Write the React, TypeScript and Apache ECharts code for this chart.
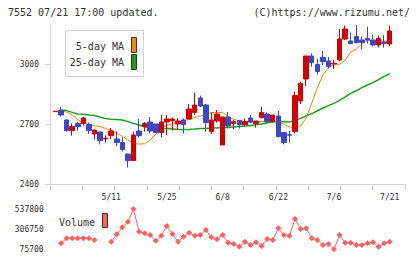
import React, { useEffect, useRef } from 'react';
import * as echarts from 'echarts';

const dates = ["4/24","4/25","4/26","4/27","4/28","5/1","5/2","5/8","5/9","5/10","5/11","5/12","5/15","5/16","5/17","5/18","5/19","5/22","5/23","5/24","5/25","5/26","5/29","5/30","5/31","6/1","6/2","6/5","6/6","6/7","6/8","6/9","6/12","6/13","6/14","6/15","6/16","6/19","6/20","6/21","6/22","6/23","6/26","6/27","6/28","6/29","6/30","7/3","7/4","7/5","7/6","7/7","7/10","7/11","7/12","7/13","7/14","7/18","7/19","7/20","7/21"];
const dateLabels = ["5/11", "5/25", "6/8", "6/22", "7/6", "7/21"];

const opens  = [2762,2767,2720,2667,2702,2702,2697,2650,2660,2625,2642,2625,2607,2550,2517,2665,2687,2710,2700,2657,2710,2717,2700,2720,2725,2757,2830,2795,2662,2715,2595,2735,2702,2718,2697,2730,2702,2732,2750,2713,2740,2657,2646,2662,2815,2925,3040,2998,3032,3015,3000,3020,3125,3115,3137,3120,3128,3120,3095,3110,3100];
const closes = [2764,2745,2667,2687,2687,2730,2667,2670,2617,2629,2665,2607,2572,2517,2645,2642,2702,2665,2657,2710,2725,2725,2715,2697,2775,2795,2790,2707,2720,2750,2735,2690,2712,2697,2713,2710,2715,2757,2713,2745,2637,2608,2644,2842,2903,3040,3007,2962,3012,2987,3004,3125,3175,3102,3107,3108,3120,3095,3128,3102,3165];
const lows   = [2762,2737,2662,2642,2667,2692,2650,2623,2598,2607,2623,2590,2562,2483,2517,2633,2662,2653,2657,2633,2645,2667,2670,2653,2725,2745,2785,2662,2650,2707,2595,2678,2675,2677,2692,2703,2682,2728,2703,2705,2632,2598,2608,2653,2800,2890,2987,2947,2995,2978,2975,3013,3120,3102,3103,3073,3103,3087,3083,3082,3090];
const highs  = [2764,2785,2722,2703,2712,2737,2707,2672,2662,2643,2680,2663,2633,2552,2662,2725,2710,2735,2700,2745,2745,2732,2730,2728,2800,2857,2842,2800,2758,2770,2735,2760,2720,2718,2728,2745,2715,2787,2757,2745,2765,2657,2665,2862,2912,3040,3053,3025,3065,3035,3020,3175,3192,3158,3195,3137,3187,3145,3142,3145,3192];

const ma5 = [null,2767,2760,2745,2722,2706,2699,2691,2687,2677,2669,2653,2638,2620,2602,2600,2601,2620,2650,2680,2693,2702,2712,2717,2722,2732,2740,2750,2757,2758,2757,2738,2723,2716,2712,2710,2710,2712,2715,2712,2708,2700,2685,2681,2690,2730,2805,2880,2945,2982,3000,2998,3020,3060,3075,3100,3118,3115,3115,3115,3113];
const ma25 = [null,2770,2767,2758,2750,2749,2745,2742,2735,2727,2724,2723,2720,2712,2703,2695,2686,2679,2678,2678,2677,2675,2673,2673,2673,2675,2678,2678,2680,2680,2682,2683,2685,2687,2690,2692,2696,2700,2706,2710,2712,2711,2710,2718,2728,2740,2752,2766,2779,2792,2803,2818,2836,2853,2866,2882,2895,2907,2922,2938,2952];

const volume = [null,141500,199300,199300,199300,199300,199300,179700,null,null,160000,245000,326000,391000,537800,275600,257000,237400,171600,229000,341400,249000,160000,217800,264000,229000,237400,295000,210000,187800,237400,148500,133500,102300,160000,121900,153000,110400,191200,179700,314800,237400,229000,422000,306750,314800,199300,179700,121900,133500,72000,237400,148500,148500,121900,121900,141500,153000,102300,141500,160000];

const priceTicks = [2400, 2700, 3000];
const volumeTicks = [75700, 306750, 537800];

const MONO = '"DejaVu Sans Mono", monospace';
const RED = '#d20000';
const BLUE = '#3c46c6';
const ORANGE = '#f08a00';
const GREEN = '#17a317';
const VOL = '#ff5e5e';
const AXIS = '#d4d4d4';

export default function App() {
  const ref = useRef<HTMLDivElement>(null);
  useEffect(() => {
    document.body.style.margin = '0';
    const chart = echarts.init(ref.current!, null, { renderer: 'svg' });
    const candles = opens.map((o, i) => [o, closes[i], lows[i], highs[i]]);
    const plain = (v: number) => String(v);
    chart.setOption({
      animation: false,
      backgroundColor: '#fff',
      grid: [
        { left: 50, right: 15, top: 24, height: 160 },
        { left: 52.7, width: 339.8, top: 24, height: 160 },
        { left: 52.7, width: 339.8, top: 205, height: 48 },
      ],
      xAxis: [
        {
          gridIndex: 0, type: 'value', min: 0, max: 11, interval: 1,
          axisLine: { show: true, onZero: false, lineStyle: { color: AXIS, width: 1 } },
          axisTick: { show: true, length: 6, lineStyle: { color: AXIS } },
          axisLabel: { show: false }, splitLine: { show: false },
        },
        {
          gridIndex: 1, type: 'category', data: dates, boundaryGap: true,
          axisLine: { show: false }, axisTick: { show: false }, splitLine: { show: false },
          axisLabel: {
            interval: (_i: number, v: string) => dateLabels.includes(v),
            margin: 9, fontSize: 8, fontFamily: MONO, color: '#333',
          },
        },
        {
          gridIndex: 2, type: 'category', data: dates, boundaryGap: true, show: false,
        },
      ],
      yAxis: [
        {
          gridIndex: 0, type: 'value', min: 2400, max: 3200,
          axisLine: { show: true, lineStyle: { color: AXIS } },
          axisTick: { show: true, length: 5, customValues: priceTicks, lineStyle: { color: AXIS } },
          axisLabel: { customValues: priceTicks, formatter: plain, margin: 11, fontSize: 8, fontFamily: MONO, color: '#333' },
          splitLine: { show: false },
        },
        { gridIndex: 1, type: 'value', min: 2400, max: 3200, show: false },
        {
          gridIndex: 2, type: 'value', min: 29490, max: 584010,
          axisLine: { show: false }, axisTick: { show: false }, splitLine: { show: false },
          axisLabel: { customValues: volumeTicks, formatter: plain, margin: 9, fontSize: 8, fontFamily: MONO, color: '#333' },
        },
      ],
      series: [
        {
          type: 'line', xAxisIndex: 1, yAxisIndex: 1, data: ma25, showSymbol: false,
          lineStyle: { color: GREEN, width: 1.5 }, z: 2,
        },
        {
          type: 'line', xAxisIndex: 1, yAxisIndex: 1, data: ma5, showSymbol: false,
          lineStyle: { color: ORANGE, width: 1 }, z: 2,
        },
        {
          type: 'candlestick', xAxisIndex: 1, yAxisIndex: 1, data: candles, barWidth: 5, z: 3,
          itemStyle: { color: RED, color0: BLUE, borderColor: RED, borderColor0: BLUE, borderWidth: 1 },
        },
        {
          type: 'line', xAxisIndex: 2, yAxisIndex: 2, data: volume, connectNulls: false,
          symbol: 'diamond', symbolSize: 6, showSymbol: true, showAllSymbol: true,
          itemStyle: { color: VOL }, lineStyle: { color: VOL, width: 1 },
        },
      ],
      graphic: [
        { type: 'text', x: 8, y: 12.5, style: { text: '7552 07/21 17:00 updated.', font: `10px ${MONO}`, fill: '#333', verticalAlign: 'middle' } },
        { type: 'text', x: 410, y: 12.5, style: { text: '(C)https://www.rizumu.net/', font: `10px ${MONO}`, fill: '#333', align: 'right', verticalAlign: 'middle' } },
        { type: 'rect', shape: { x: 65.5, y: 30.5, width: 78, height: 46 }, style: { fill: '#fff', stroke: '#d0d0d0', lineWidth: 1 }, z: 10 },
        { type: 'text', x: 124, y: 46, style: { text: '5-day MA', font: `10px ${MONO}`, fill: '#333', align: 'right', verticalAlign: 'middle' }, z: 11 },
        { type: 'text', x: 124, y: 62.5, style: { text: '25-day MA', font: `10px ${MONO}`, fill: '#333', align: 'right', verticalAlign: 'middle' }, z: 11 },
        { type: 'rect', shape: { x: 131.5, y: 37.5, width: 5, height: 15 }, style: { fill: ORANGE, stroke: '#333', lineWidth: 1 }, z: 11 },
        { type: 'rect', shape: { x: 131.5, y: 54.5, width: 5, height: 15 }, style: { fill: GREEN, stroke: '#333', lineWidth: 1 }, z: 11 },
        { type: 'text', x: 59, y: 222, style: { text: 'Volume', font: `10px ${MONO}`, fill: '#333', verticalAlign: 'middle' }, z: 11 },
        { type: 'rect', shape: { x: 102.5, y: 213.5, width: 5, height: 14 }, style: { fill: '#ff6060', stroke: '#333', lineWidth: 1 }, z: 11 },
      ],
    });
    return () => chart.dispose();
  }, []);
  return <div ref={ref} style={{ width: 420, height: 259 }} />;
}
